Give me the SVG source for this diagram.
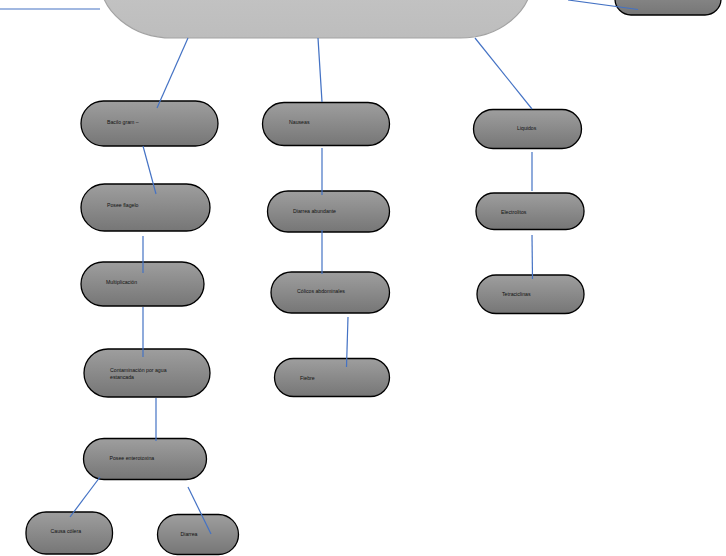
<svg xmlns="http://www.w3.org/2000/svg" width="726" height="556" viewBox="0 0 726 556">
<defs>
<linearGradient id="gd" x1="0" y1="0" x2="0" y2="1">
<stop offset="0" stop-color="#9e9e9e"/>
<stop offset="1" stop-color="#767676"/>
</linearGradient>
<linearGradient id="gl" x1="0" y1="0" x2="0" y2="1">
<stop offset="0" stop-color="#cbcbcb"/>
<stop offset="1" stop-color="#bdbdbd"/>
</linearGradient>
<style>
.n rect{fill:url(#gd);stroke:#000;stroke-width:1.3}
.n text{font-family:"Liberation Sans",Arial,sans-serif;font-size:5.2px;fill:#111}
#connectors line{stroke:#4472c4;stroke-width:1.2}
</style>
</defs>
<rect width="726" height="556" fill="#fff"/>
<g id="main"><rect x="100" y="-80" width="432" height="118" rx="72" ry="60" fill="url(#gl)" stroke="#a3a3a3" stroke-width="1.2"/></g>
<g id="topright" class="n"><rect x="615" y="-30" width="106" height="45" rx="16"/></g>
<g id="bacilo" class="n"><rect x="81" y="101" width="137" height="45" rx="22.5"/><text x="107" y="124">Bacilo gram –</text></g>
<g id="flagelo" class="n"><rect x="81" y="184" width="129" height="47" rx="23.5"/><text x="107" y="207">Posee flagelo</text></g>
<g id="multiplicacion" class="n"><rect x="81" y="262" width="123" height="44" rx="22"/><text x="106" y="283.5">Multiplicación</text></g>
<g id="contaminacion" class="n"><rect x="84" y="349" width="126" height="48" rx="24"/><text x="110" y="371.5">Contaminación por agua</text><text x="110" y="378.5">estancada</text></g>
<g id="enterotoxina" class="n"><rect x="83.5" y="438.5" width="123" height="41" rx="20.5"/><text x="109.5" y="460">Posee enterotoxina</text></g>
<g id="colera" class="n"><rect x="26" y="512" width="86.5" height="42" rx="20"/><text x="50.5" y="532.5">Causa cólera</text></g>
<g id="diarrea" class="n"><rect x="157.5" y="514.5" width="81" height="40" rx="20"/><text x="180.5" y="536">Diarrea</text></g>
<g id="nauseas" class="n"><rect x="262.5" y="102.5" width="127" height="43" rx="21.5"/><text x="289" y="124">Nauseas</text></g>
<g id="diarrea-abundante" class="n"><rect x="267.5" y="191" width="122" height="41" rx="20.5"/><text x="293" y="212.5">Diarrea abundante</text></g>
<g id="colicos" class="n"><rect x="271" y="272" width="118.5" height="41" rx="20.5"/><text x="297" y="293">Cólicos abdominales</text></g>
<g id="fiebre" class="n"><rect x="274.5" y="358.5" width="115" height="38" rx="19"/><text x="300" y="380">Fiebre</text></g>
<g id="liquidos" class="n"><rect x="473.5" y="109.5" width="108" height="39" rx="19.5"/><text x="517" y="130">Liquidos</text></g>
<g id="electrolitos" class="n"><rect x="476" y="193" width="108" height="36.5" rx="18"/><text x="501" y="213.5">Electrolitos</text></g>
<g id="tetraciclinas" class="n"><rect x="477" y="275" width="107" height="38.5" rx="19"/><text x="502" y="296">Tetraciclinas</text></g>
<g id="connectors">
<line x1="0" y1="9" x2="100" y2="9"/>
<line x1="568" y1="0" x2="638" y2="9.5"/>
<line x1="188" y1="38" x2="157" y2="108"/>
<line x1="318" y1="38" x2="322" y2="102"/>
<line x1="475" y1="38" x2="532" y2="109"/>
<line x1="143" y1="146" x2="156" y2="194"/>
<line x1="143" y1="236" x2="143" y2="273"/>
<line x1="143" y1="307" x2="143" y2="357"/>
<line x1="156" y1="398" x2="156" y2="441"/>
<line x1="100" y1="477" x2="70" y2="517"/>
<line x1="188" y1="487" x2="211" y2="534"/>
<line x1="322" y1="148" x2="322" y2="195"/>
<line x1="322" y1="230" x2="322" y2="274"/>
<line x1="348" y1="317" x2="346.5" y2="367"/>
<line x1="532" y1="152" x2="532" y2="191"/>
<line x1="532" y1="235" x2="532.5" y2="279"/>
</g>
</svg>
